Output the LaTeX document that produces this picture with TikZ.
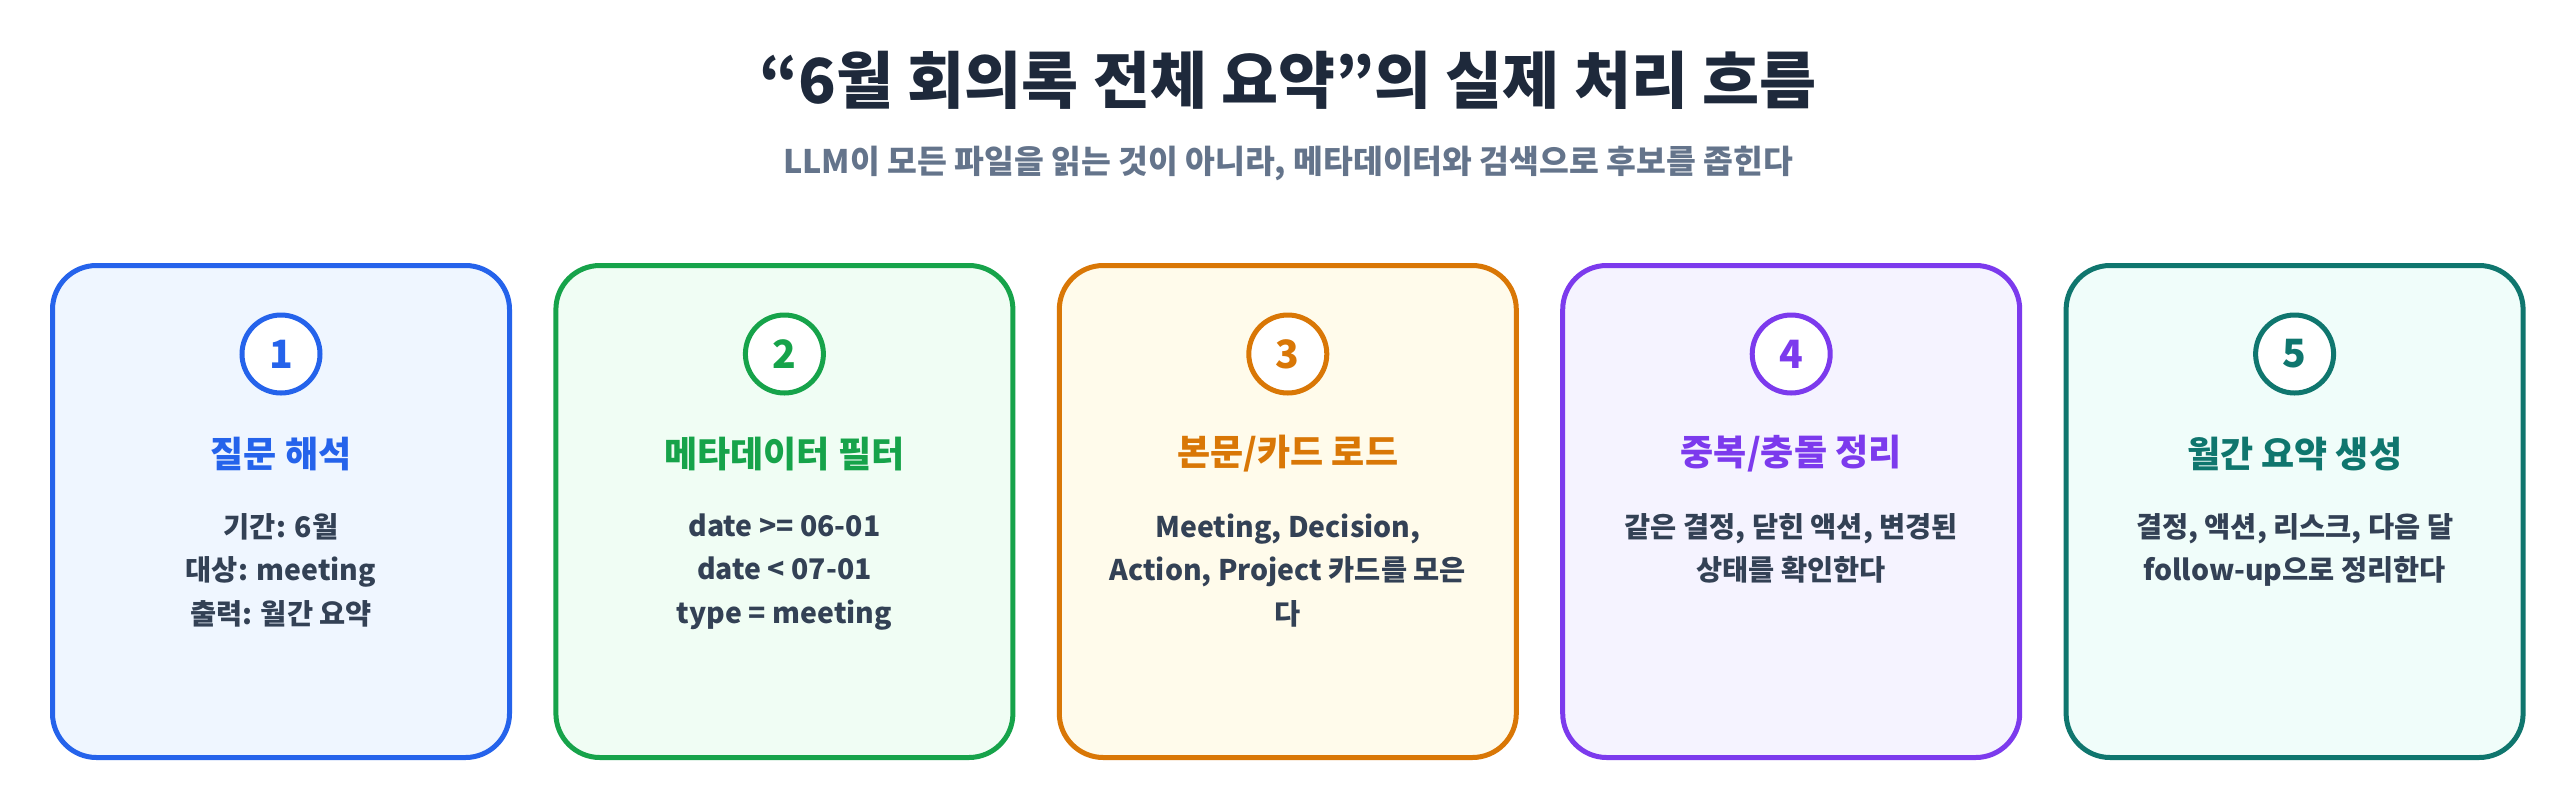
\documentclass[tikz,border=0pt]{standalone}
\usepackage{fontspec}
\setmainfont{Noto Sans CJK KR}
\usepackage{tikz}
\usetikzlibrary{positioning,calc}
\definecolor{inkTitle}{HTML}{1E293B}
\definecolor{inkSub}{HTML}{64748B}
\definecolor{inkBody}{HTML}{334155}
\definecolor{lineA}{HTML}{2563EB}
\definecolor{fillA}{HTML}{EFF6FF}
\definecolor{lineB}{HTML}{16A34A}
\definecolor{fillB}{HTML}{F0FDF4}
\definecolor{lineC}{HTML}{D97706}
\definecolor{fillC}{HTML}{FFFBEB}
\definecolor{lineD}{HTML}{7C3AED}
\definecolor{fillD}{HTML}{F5F3FF}
\definecolor{lineE}{HTML}{0F766E}
\definecolor{fillE}{HTML}{F0FDFA}
\def\CardWidth{228.5pt}
\def\CardHeight{246pt}
\def\CardGap{23.2pt}
\tikzset{
	card/.style 2 args={draw=#1,fill=#2,line width=2.5pt,rounded corners=22pt,
		minimum width=\CardWidth,minimum height=\CardHeight,inner sep=0pt,outer sep=0pt},
	badge/.style={circle,draw=#1,fill=white,text=#1,line width=2.5pt,minimum size=39pt,
		inner sep=0pt,font=\fontsize{19.5}{19.5}\selectfont\bfseries},
	cardtitle/.style={text=#1,inner sep=0pt,font=\fontsize{18}{18}\selectfont\bfseries},
	cardbody/.style={text=inkBody,align=center,anchor=north,inner sep=0pt,
		font=\fontsize{14.2}{21.75}\selectfont\bfseries},
}

\begin{document}
\begin{tikzpicture}[x=0.5pt,y=-0.5pt]
	\fill[white] (0,0) rectangle (2576,810);
	\useasboundingbox (0,0) rectangle (2576,810);
	% heading
	\node[text=inkTitle,font=\fontsize{31}{31}\selectfont\bfseries] (head) at (1288,80) {“6월 회의록 전체 요약”의 실제 처리 흐름};
	\node[text=inkSub,font=\fontsize{16.2}{16.2}\selectfont\bfseries] (sub) at (1288,163) {LLM이 모든 파일을 읽는 것이 아니라, 메타데이터와 검색으로 후보를 좁힌다};
	% 
	\node[card={lineA}{fillA}] (c1) at (281,511.5) {};
	\node[card={lineB}{fillB},right=\CardGap of c1] (c2) {};
	\node[card={lineC}{fillC},right=\CardGap of c2] (c3) {};
	\node[card={lineD}{fillD},right=\CardGap of c3] (c4) {};
	\node[card={lineE}{fillE},right=\CardGap of c4] (c5) {};
	% 
	\node[badge=lineA] (b1) at ($(c1.north)+(0,88.5)$) {1};
	\node[badge=lineB] (b2) at ($(c2.north)+(0,88.5)$) {2};
	\node[badge=lineC] (b3) at ($(c3.north)+(0,88.5)$) {3};
	\node[badge=lineD] (b4) at ($(c4.north)+(0,88.5)$) {4};
	\node[badge=lineE] (b5) at ($(c5.north)+(0,88.5)$) {5};
	% 
	\node[cardtitle=lineA] (t1) at ($(c1.north)+(0,188.5)$) {질문 해석};
	\node[cardtitle=lineB] (t2) at ($(c2.north)+(0,188.5)$) {메타데이터 필터};
	\node[cardtitle=lineC] (t3) at ($(c3.north)+(0,188.5)$) {본문/카드 로드};
	\node[cardtitle=lineD] (t4) at ($(c4.north)+(0,188.5)$) {중복/충돌 정리};
	\node[cardtitle=lineE] (t5) at ($(c5.north)+(0,188.5)$) {월간 요약 생성};
	% 
	\node[cardbody] (d1) at ($(c1.north)+(0,247.5)$) {기간: 6월\\대상: meeting\\출력: 월간 요약};
	\node[cardbody] (d2) at ($(c2.north)+(0,247.5)$) {date >= 06-01\\date < 07-01\\type = meeting};
	\node[cardbody] (d3) at ($(c3.north)+(0,247.5)$) {Meeting, Decision,\\Action, Project 카드를 모은\\다};
	\node[cardbody] (d4) at ($(c4.north)+(0,247.5)$) {같은 결정, 닫힌 액션, 변경된\\상태를 확인한다};
	\node[cardbody] (d5) at ($(c5.north)+(0,247.5)$) {결정, 액션, 리스크, 다음 달\\follow-up으로 정리한다};
\end{tikzpicture}
\end{document}
